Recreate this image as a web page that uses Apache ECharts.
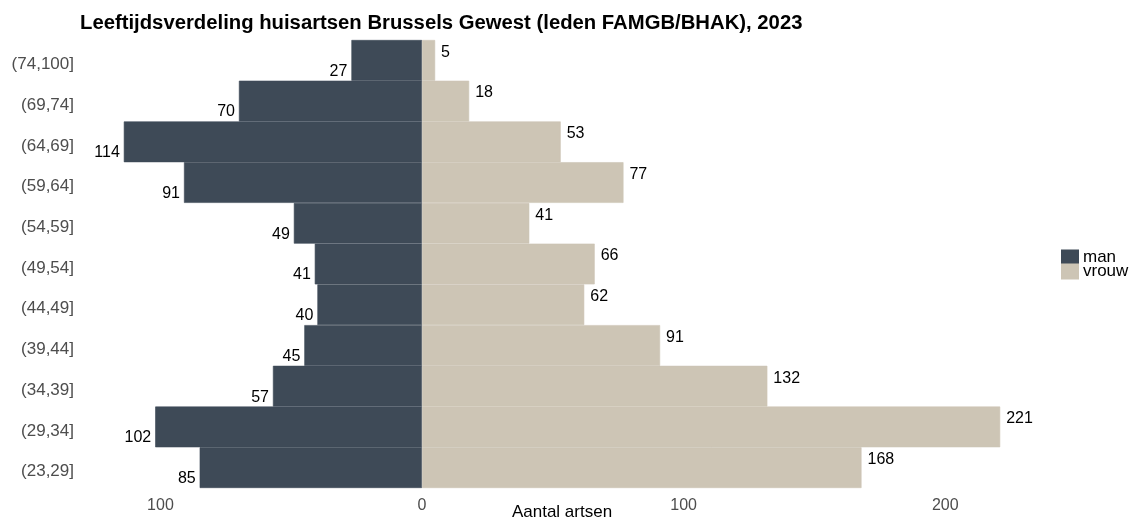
<!DOCTYPE html>
<html>
<head>
<meta charset="utf-8">
<script src="https://cdn.jsdelivr.net/npm/echarts@6/dist/echarts.min.js"></script>
<style>html,body{margin:0;padding:0;background:#fff}#c{width:1130px;height:526px}</style>
</head>
<body>
<div id="c"></div>
<script>
const categories = ['(23,29]','(29,34]','(34,39]','(39,44]','(44,49]','(49,54]','(54,59]','(59,64]','(64,69]','(69,74]','(74,100]'];
const manValues = [85,102,57,45,40,41,49,91,114,70,27];
const vrouwValues = [168,221,132,91,62,66,41,77,53,18,5];
const xTicks = [-100,0,100,200];

const FONT = 'Liberation Sans, Arial, sans-serif';
const MAN_COLOR = '#3e4a57';
const VROUW_COLOR = '#cdc5b5';
const chart = echarts.init(document.getElementById('c'));
chart.setOption({
  animation: false,
  textStyle: {fontFamily: FONT},
  title: {
    text: 'Leeftijdsverdeling huisartsen Brussels Gewest (leden FAMGB/BHAK), 2023',
    left: 80, top: 13, padding: 0,
    textStyle: {fontFamily: FONT, fontSize: 20.3, fontWeight: 'bold', color: '#000'}
  },
  legend: {
    orient: 'vertical', left: 1061, top: 249, padding: 0,
    itemWidth: 16, itemHeight: 14, itemGap: -3,
    icon: 'rect',
    textStyle: {fontFamily: FONT, fontSize: 17, color: '#000', lineHeight: 14},
    data: ['man','vrouw']
  },
  grid: {left: 80, width: 964, top: 40, height: 448, outerBoundsMode: 'none', containLabel: false},
  xAxis: {
    type: 'value', min: -130.75, max: 237.75,
    name: 'Aantal artsen', nameLocation: 'middle', nameGap: 16, nameMoveOverlap: false,
    nameTextStyle: {fontFamily: FONT, fontSize: 17, color: '#000'},
    axisLine: {show: false}, axisTick: {show: false}, splitLine: {show: false},
    axisLabel: {
      customValues: xTicks, margin: 10,
      fontFamily: FONT, fontSize: 16, color: '#4d4d4d',
      formatter: v => String(Math.abs(v))
    }
  },
  yAxis: {
    type: 'category', data: categories,
    axisLine: {show: false}, axisTick: {show: false}, splitLine: {show: false},
    axisLabel: {margin: 6, fontFamily: FONT, fontSize: 17, color: '#4d4d4d', verticalAlign: 'top', lineHeight: 8}
  },
  series: [
    {
      name: 'man', type: 'bar', barCategoryGap: 0, barGap: '-100%',
      data: manValues.map(v => -v),
      itemStyle: {color: MAN_COLOR, borderColor: MAN_COLOR, borderWidth: 0.6},
      label: {
        show: true, position: 'left', distance: 4, offset: [0, 11],
        fontFamily: FONT, fontSize: 16, color: '#000',
        formatter: p => String(Math.abs(p.value))
      }
    },
    {
      name: 'vrouw', type: 'bar', barCategoryGap: 0, barGap: '-100%',
      data: vrouwValues,
      itemStyle: {color: VROUW_COLOR, borderColor: VROUW_COLOR, borderWidth: 0.6},
      label: {
        show: true, position: 'right', distance: 6, offset: [0, -8],
        fontFamily: FONT, fontSize: 16, color: '#000'
      }
    }
  ]
});
</script>
</body>
</html>
